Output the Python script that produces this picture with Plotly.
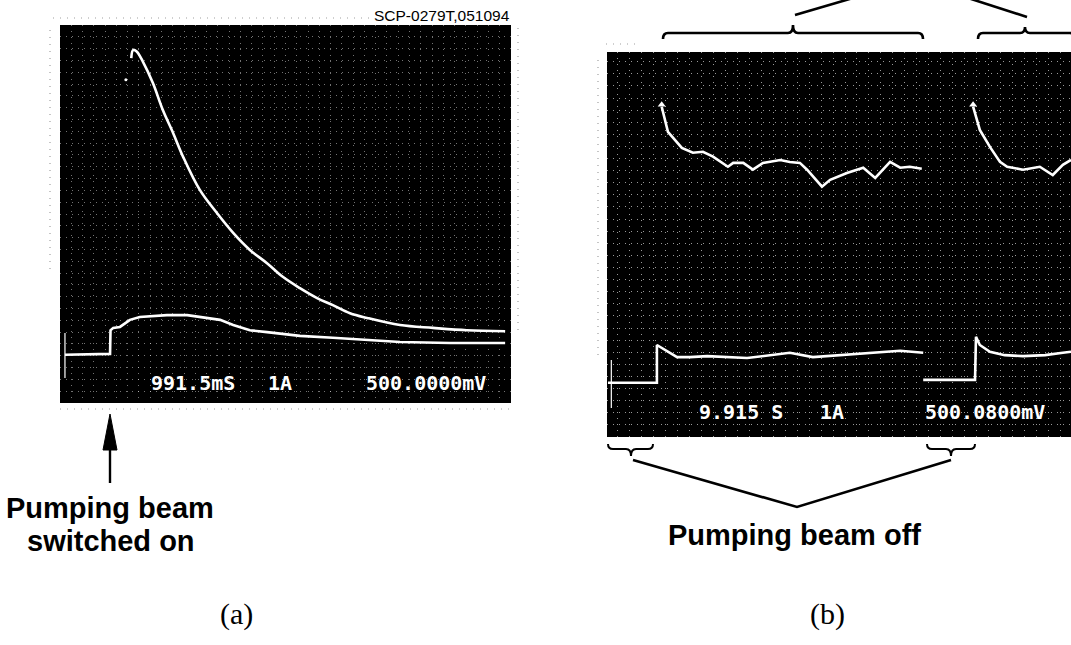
import plotly.graph_objects as go

# ---------------- data (oscilloscope divisions) ----------------
# Panel (a): pumping beam switched on
a_upper_t = [1.58, 1.62, 1.70, 1.84, 2.06, 2.28, 2.51, 2.73, 3.10, 3.48, 3.84, 4.21, 4.59,
             4.94, 5.32, 5.70, 6.05, 6.43, 6.81, 7.54, 8.27, 9.02, 9.87]
a_upper_v = [7.30, 7.47, 7.44, 7.22, 6.77, 6.20, 5.71, 5.21, 4.51, 4.02, 3.60, 3.24, 2.96,
             2.67, 2.43, 2.22, 2.07, 1.90, 1.80, 1.65, 1.59, 1.54, 1.52]
a_lower_t = [0.11, 1.11, 1.12, 1.18, 1.33, 1.55, 1.77, 2.37, 2.82, 3.26, 3.55, 3.84, 4.21,
             4.59, 5.32, 6.05, 6.81, 7.54, 8.65, 9.87]
a_lower_v = [1.02, 1.04, 1.54, 1.59, 1.61, 1.76, 1.82, 1.86, 1.86, 1.80, 1.76, 1.65, 1.54,
             1.50, 1.42, 1.38, 1.33, 1.29, 1.27, 1.27]
a_ground_t = [0.11, 0.11]
a_ground_v = [0.53, 1.48]
a_peak_dot_t = [1.46]
a_peak_dot_v = [6.84]

# Panel (b): pumping beam periodically off
b_upper1_t = [1.18, 1.31, 1.60, 1.83, 2.04, 2.25, 2.56, 2.67, 2.88, 3.08, 3.29, 3.65, 3.85,
              4.06, 4.21, 4.52, 4.69, 5.04, 5.38, 5.63, 5.94, 6.15, 6.35, 6.60]
b_upper1_v = [6.82, 6.30, 5.97, 5.87, 5.89, 5.79, 5.58, 5.66, 5.66, 5.52, 5.66, 5.72, 5.68,
              5.66, 5.52, 5.17, 5.31, 5.45, 5.56, 5.35, 5.68, 5.56, 5.58, 5.54]
b_upper2_t = [7.67, 7.81, 8.02, 8.23, 8.38, 8.71, 9.06, 9.33, 9.54, 9.71]
b_upper2_v = [6.82, 6.34, 5.99, 5.68, 5.58, 5.52, 5.58, 5.41, 5.62, 5.72]
b_lower1_t = [0.06, 1.08, 1.08, 1.21, 1.50, 1.77, 2.13, 2.96, 3.44, 3.85, 4.33, 4.90, 5.58,
              6.15, 6.63]
b_lower1_v = [1.12, 1.12, 1.90, 1.82, 1.65, 1.65, 1.67, 1.63, 1.69, 1.74, 1.65, 1.69, 1.74,
              1.78, 1.74]
b_lower2_t = [6.63, 7.71, 7.71, 7.73, 7.81, 8.02, 8.33, 8.71, 9.17, 9.54, 9.71]
b_lower2_v = [1.18, 1.18, 1.18, 2.07, 1.90, 1.76, 1.69, 1.67, 1.69, 1.74, 1.76]
b_ground_t = [0.13, 0.13]
b_ground_v = [0.60, 1.59]
b_peak_t = [1.18, 7.67]
b_peak_v = [6.86, 6.86]

# readouts
a_readout = ["991.5mS", "1A", "500.0000mV"]
b_readout = ["9.915 S", "1A", "500.0800mV"]

W, H = 1071, 645
fig = go.Figure()

trace_style = dict(mode="lines", line=dict(color="white", width=2.6), hoverinfo="skip", showlegend=False)

fig.add_trace(go.Scatter(x=a_upper_t, y=a_upper_v, xaxis="x", yaxis="y",
                         line_shape="spline", **trace_style))
fig.add_trace(go.Scatter(x=a_lower_t, y=a_lower_v, xaxis="x", yaxis="y", **trace_style))
fig.add_trace(go.Scatter(x=a_ground_t, y=a_ground_v, xaxis="x", yaxis="y", mode="lines",
                         line=dict(color="white", width=1.2), hoverinfo="skip", showlegend=False))
fig.add_trace(go.Scatter(x=a_peak_dot_t, y=a_peak_dot_v, xaxis="x", yaxis="y", mode="markers",
                         marker=dict(color="white", size=3), hoverinfo="skip", showlegend=False))

for t, v in [(b_upper1_t, b_upper1_v), (b_upper2_t, b_upper2_v),
             (b_lower1_t, b_lower1_v), (b_lower2_t, b_lower2_v)]:
    fig.add_trace(go.Scatter(x=t, y=v, xaxis="x2", yaxis="y2", **trace_style))
fig.add_trace(go.Scatter(x=b_ground_t, y=b_ground_v, xaxis="x2", yaxis="y2", mode="lines",
                         line=dict(color="white", width=1.2), hoverinfo="skip", showlegend=False))
fig.add_trace(go.Scatter(x=b_peak_t, y=b_peak_v, xaxis="x2", yaxis="y2", mode="markers",
                         marker=dict(symbol="triangle-up", color="white", size=7),
                         hoverinfo="skip", showlegend=False))

def grid(alpha):
    return dict(showgrid=True, gridcolor=f"rgba(255,255,255,{alpha})", gridwidth=1, griddash="1px,5px",
                zeroline=False, showticklabels=False, ticks="", showline=False, fixedrange=True)

fig.update_layout(
    width=W, height=H, margin=dict(l=0, r=0, t=0, b=0),
    paper_bgcolor="white", plot_bgcolor="rgba(0,0,0,0)",
    xaxis=dict(domain=[60 / W, 511 / W], range=[0, 10], dtick=0.25, anchor="y", **grid(0.45)),
    yaxis=dict(domain=[1 - 403 / H, 1 - 25 / H], range=[0, 8], dtick=0.25, anchor="x", **grid(0.45)),
    xaxis2=dict(domain=[607 / W, 1.0], range=[0.04, 9.71], dtick=0.25, anchor="y2", **grid(0.6)),
    yaxis2=dict(domain=[1 - 437 / H, 1 - 52 / H], range=[0, 7.95], dtick=0.25, anchor="x2", **grid(0.6)),
    xaxis3=dict(domain=[0, 1], range=[0, W], visible=False, anchor="y3", fixedrange=True),
    yaxis3=dict(domain=[0, 1], range=[H, 0], visible=False, anchor="x3", fixedrange=True),
)
# invisible trace to activate overlay axes
fig.add_trace(go.Scatter(x=[0], y=[0], xaxis="x3", yaxis="y3", mode="markers",
                         marker=dict(opacity=0), hoverinfo="skip", showlegend=False))

shapes = []
# black screens
for xr, yr in [("x domain", "y domain"), ("x2 domain", "y2 domain")]:
    shapes.append(dict(type="rect", xref=xr, yref=yr, x0=0, x1=1, y0=0, y1=1,
                       fillcolor="black", line=dict(width=0), layer="below"))

def px(path, width=2.6, fill=None):
    d = dict(type="path", xref="x3", yref="y3", path=path, layer="above",
             line=dict(color="black", width=width))
    if fill:
        d["fillcolor"] = fill
    return d

def brace(x0, x1, xm, y, tip, curl):
    c = 5
    return (f"M {x0},{y + curl} Q {x0},{y} {x0 + c},{y} L {xm - c},{y} "
            f"Q {xm},{y} {xm},{y + tip} Q {xm},{y} {xm + c},{y} L {x1 - c},{y} "
            f"Q {x1},{y} {x1},{y + curl}")

# top braces (b)
shapes.append(px(brace(663, 923, 793, 33, -8, 6)))
shapes.append(px(brace(978, 1075, 1025, 33, -6, 6)))
shapes.append(px("M 795,15 L 853,-2", 2.6))
shapes.append(px("M 968,-2 L 1027,17", 2.6))
# bottom braces (b)
shapes.append(px(brace(608, 653, 631, 449, 7, -5), 2.0))
shapes.append(px(brace(927, 975, 951, 449, 7, -5), 2.0))
shapes.append(px("M 633,460 L 797,507 L 951,460", 2.6))
# arrow (a)
shapes.append(px("M 110,483 L 110,445", 2.4))
shapes.append(px("M 103,450 L 110,414 L 117,450 Z", 1, fill="black"))
# faint dotted frame lines around screens
dot = dict(color="rgba(120,120,120,0.7)", width=1.2, dash="1px,6px")
for x0, y0, x1, y1 in [(53, 18, 370, 18), (50, 30, 50, 270), (518, 28, 518, 335), (60, 409, 510, 409),
                       (606, 44, 640, 44), (598, 60, 598, 360)]:
    shapes.append(dict(type="line", xref="x3", yref="y3", x0=x0, y0=y0, x1=x1, y1=y1,
                       line=dot, layer="above"))
fig.update_layout(shapes=shapes)

ann = []
def txt(x, y, s, size, color="black", family="Liberation Sans", xanchor="center", bold=False):
    ann.append(dict(xref="x3", yref="y3", x=x, y=y, text=s, showarrow=False, xanchor=xanchor,
                    yanchor="middle", font=dict(family=family, size=size, color=color,
                                                weight="bold" if bold else "normal")))

mono = "DejaVu Sans Mono"
for s, xc in zip(a_readout, [193, 280, 426]):
    txt(xc, 383, s, 20, "white", mono, bold=True)
for s, xc in zip(b_readout, [741, 832, 985]):
    txt(xc, 412, s, 20, "white", mono, bold=True)
txt(512, 15, "SCP-0279T,051094", 15.5, xanchor="right")
txt(110, 508, "Pumping beam", 29, bold=True)
txt(111, 541, "switched on", 29, bold=True)
txt(794, 535, "Pumping beam off", 29, bold=True)
txt(236, 614, "(a)", 30, family="Liberation Serif")
txt(827, 614, "(b)", 30, family="Liberation Serif")
fig.update_layout(annotations=ann)

fig.write_html("out.html", config={"displayModeBar": False},
               post_script="document.body.style.margin='0';document.body.style.overflow='hidden';")
